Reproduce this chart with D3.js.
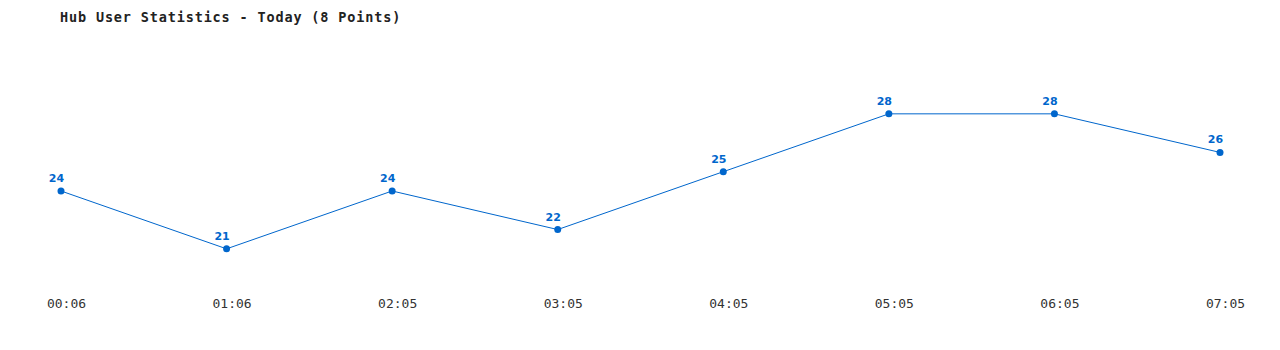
<!DOCTYPE html>
<html>
<head>
<meta charset="utf-8">
<script src="https://cdn.jsdelivr.net/npm/d3@7"></script>
<style>
  body { margin: 0; background: #fff; }
</style>
</head>
<body>
<div id="chart"></div>
<script>
var times = ["00:06", "01:06", "02:05", "03:05", "04:05", "05:05", "06:05", "07:05"];
var users = [24, 21, 24, 22, 25, 28, 28, 26];
var title = "Hub User Statistics - Today (8 Points)";

(function () {
    var width = 1280, height = 350;
    var color = "#0066cc";

    var svg = d3.select("#chart")
        .append("svg")
        .attr("width", width)
        .attr("height", height);

    var data = times.map(function (t, i) { return { t: t, v: users[i] }; });

    // scales
    var x = d3.scalePoint().domain(times).range([61, 1220]);
    var y = d3.scaleLinear().domain([18, 32]).range([306.7, 36.7]);

    // title
    svg.append("text")
        .attr("x", 60)
        .attr("y", 22)
        .attr("font-family", "'DejaVu Sans Mono', monospace")
        .attr("font-size", 13.5)
        .attr("font-weight", "bold")
        .attr("letter-spacing", 0.85)
        .attr("fill", "#222")
        .text(title);

    // x axis labels only, sitting a bit right of each point
    var axis = svg.append("g")
        .attr("transform", "translate(5,296)")
        .call(d3.axisBottom(x).tickSize(0).tickPadding(3));
    axis.select(".domain").remove();
    axis.selectAll("text")
        .attr("font-family", "'DejaVu Sans Mono', monospace")
        .attr("font-size", 13)
        .attr("fill", "#333");

    // line
    var line = d3.line()
        .x(function (d) { return x(d.t); })
        .y(function (d) { return y(d.v); });

    svg.append("path")
        .datum(data)
        .attr("fill", "none")
        .attr("stroke", color)
        .attr("stroke-width", 1)
        .attr("d", line);

    svg.selectAll(".dot")
        .data(data)
        .enter().append("circle")
        .attr("class", "dot")
        .attr("cx", function (d) { return x(d.t); })
        .attr("cy", function (d) { return y(d.v); })
        .attr("r", 3.5)
        .attr("fill", color);

    svg.selectAll(".val")
        .data(data)
        .enter().append("text")
        .attr("class", "val")
        .attr("x", function (d) { return x(d.t) - 4.5; })
        .attr("y", function (d) { return y(d.v) - 9; })
        .attr("text-anchor", "middle")
        .attr("font-family", "Verdana, 'DejaVu Sans', sans-serif")
        .attr("font-size", 11)
        .attr("font-weight", "bold")
        .attr("fill", color)
        .text(function (d) { return d.v; });
})();
</script>
</body>
</html>
